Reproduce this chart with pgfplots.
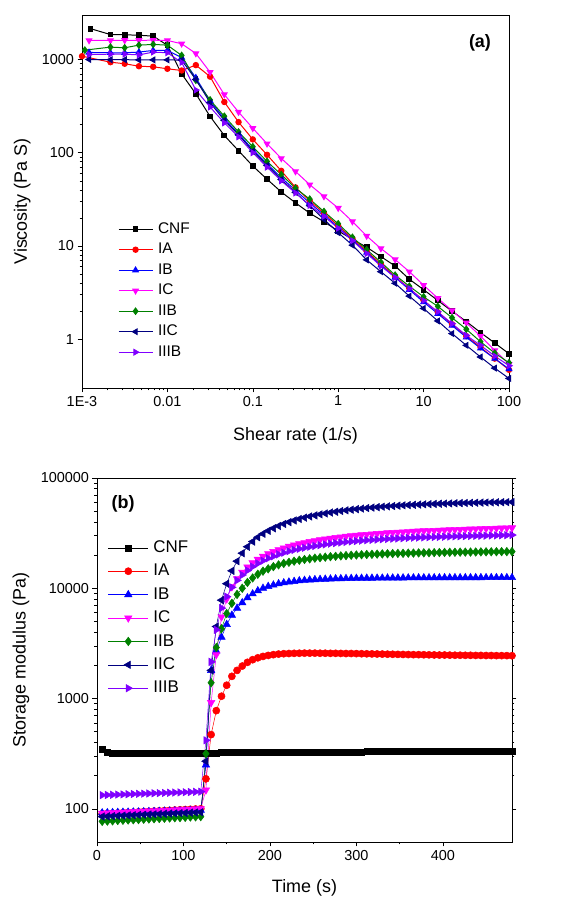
\documentclass[border=0pt]{standalone}
\usepackage{fontspec}
\setmainfont{Liberation Sans}
\usepackage{pgfplots}
\pgfplotsset{compat=1.18}
\usepackage{pgfplotstable}
\definecolor{cnavy}{RGB}{0,0,128}
\definecolor{cgreen}{RGB}{0,128,0}
\definecolor{cviolet}{RGB}{128,0,255}
\definecolor{cmag}{RGB}{255,0,255}

\pgfplotstableread{
x CNF IA IB IC IIB IIC IIIB
0.001 nan 1085 nan nan nan nan nan
0.00108 nan nan nan nan 1260 nan nan
0.00121 nan nan 1190 1600 nan 1000 1130
0.00126 2140 nan nan nan nan nan nan
0.002154 1850 935 1180 1600 1357 995 1140
0.003162 1840 900 1180 1605 1335 995 1140
0.004642 1820 847 1200 1605 1425 990 1120
0.006813 1780 835 1250 1610 1450 990 1200
0.01 1420 795 1250 1600 1425 990 1180
0.01468 700 762 1050 1475 1105 985 930
0.02154 428 870 636 1160 599 610 470
0.03162 245 655 360 731 368 345 309
0.04642 153 350 232 421 246 222 209
0.06813 105 213 160 273 167 156 148
0.1 72 139 108 183 116 104 100
0.1468 52 95 76 125 80.6 73 70
0.2154 38 64 54 87 58.3 51.5 50
0.3162 29 42.5 39.5 63 41.7 37.5 37
0.4642 22.5 30.5 29 45.5 31.8 27 27.2
0.6813 18.2 22.5 21.5 34 23.4 19.3 20.8
1 14.5 16.5 15.8 25.5 17.3 13.9 15.5
1.468 11.8 12.0 11.6 18.3 12.4 10.2 11.4
2.154 9.7 8.8 8.5 12.8 9.15 7.1 8.3
3.162 7.7 6.4 6.2 9.4 6.7 5.3 6.1
4.642 6.1 4.7 4.6 7.15 4.87 3.98 4.6
6.813 4.4 3.5 3.4 5.3 3.7 2.9 3.5
10 3.4 2.6 2.5 3.8 2.85 2.14 2.6
14.68 2.6 1.95 1.88 2.75 2.25 1.57 1.97
21.54 2.0 1.45 1.4 2.03 1.7 1.15 1.47
31.62 1.55 1.08 1.05 1.5 1.28 0.86 1.1
46.42 1.18 0.82 0.8 1.08 0.94 0.645 0.86
68.13 0.91 0.62 0.62 0.76 0.71 0.49 0.66
100 0.70 0.47 0.48 0.54 0.56 0.38 0.52
}\tabA

\pgfplotstableread{
t CNF IA IB IC IIB IIC IIIB
6 345 90 92 91 77 85 133
12 326 90.5 92.3 91.5 77.4 85.4 133.5
18 318 91 92.5 91.9 77.8 85.8 134
24 318 91.6 92.8 92.4 78.3 86.3 134.6
30 318 92.1 93.1 92.9 78.7 86.7 135.1
36 319 92.6 93.3 93.4 79.1 87.1 135.6
42 319 93.2 93.6 93.8 79.5 87.5 136.2
48 319 93.7 93.8 94.3 79.9 87.9 136.7
54 319 94.2 94.1 94.8 80.4 88.4 137.2
60 320 94.7 94.4 95.3 80.8 88.8 137.7
66 320 95.3 94.6 95.7 81.2 89.2 138.3
72 320 95.8 94.9 96.2 81.6 89.6 138.8
78 320 96.3 95.2 96.7 82.1 90.1 139.3
84 320 96.8 95.4 97.2 82.5 90.5 139.8
90 321 97.4 95.7 97.6 82.9 90.9 140.4
96 321 97.9 95.9 98.1 83.3 91.3 140.9
102 321 98.4 96.2 98.6 83.7 91.7 141.4
108 321 98.9 96.5 99.1 84.2 92.2 141.9
114 322 99.5 96.7 99.5 84.6 92.6 142.5
120 322 100 97 100 85 93 143
126 322 187 250 148 316 270 418
132 322 471 1800 918 1390 1800 2150
138 322 777 2700 2500 2900 4500 4200
144 323 1050 3600 5500 4300 7800 6600
150 323 1320 4700 8000 5900 11000 8400
156 323 1590 5700 10300 7300 14400 10200
162 323 1800 6600 12200 8800 17600 11800
168 324 1970 7400 14000 10000 20800 13200
174 324 2130 8200 15600 11300 23800 14500
180 324 2250 8900 17000 12400 26500 15700
186 324 2340 9500 18300 13400 29000 16800
192 325 2410 10000 19500 14300 31200 17800
198 325 2460 10400 20600 15000 33200 18700
204 325 2500 10700 21500 15700 35000 19500
210 325 2530 11000 22400 16300 36700 20300
216 326 2550 11200 23200 16800 38300 21000
222 326 2560 11400 24000 17200 39800 21700
228 326 2570 11550 24700 17600 41200 22300
234 326 2575 11700 25300 17950 42500 22800
240 327 2580 11800 25900 18250 43700 23300
246 327 2580 11900 26500 18500 44800 23800
252 327 2580 11980 27000 18750 45800 24200
258 327 2575 12050 27500 18950 46800 24600
264 328 2575 12100 28000 19150 47700 25000
270 328 2570 12150 28400 19350 48600 25400
276 328 2570 12200 28800 19500 49400 25700
282 328 2565 12230 29200 19650 50200 26000
288 329 2560 12260 29550 19800 50900 26300
294 329 2560 12290 29900 19920 51600 26550
300 329 2555 12310 30200 20030 52200 26800
306 329 2550 12330 30500 20130 52800 27050
312 330 2545 12350 30800 20230 53400 27250
318 330 2540 12360 31050 20320 53900 27450
324 330 2535 12370 31300 20400 54400 27650
330 330 2530 12380 31550 20480 54900 27850
336 331 2525 12390 31800 20550 55300 28000
342 331 2520 12400 32000 20620 55700 28150
348 331 2515 12410 32200 20690 56100 28300
354 331 2510 12420 32400 20750 56500 28450
360 332 2505 12430 32600 20810 56800 28600
366 332 2500 12440 32800 20860 57100 28750
372 332 2500 12440 33000 20910 57400 28850
378 332 2495 12450 33150 20960 57700 28950
384 333 2490 12450 33300 21000 57950 29050
390 333 2485 12460 33450 21050 58200 29150
396 333 2480 12460 33600 21090 58400 29250
402 333 2480 12470 33750 21130 58600 29350
408 334 2475 12470 33900 21170 58800 29450
414 334 2470 12480 34000 21200 59000 29550
420 334 2470 12480 34150 21240 59200 29650
426 334 2465 12480 34300 21270 59350 29700
432 334 2465 12490 34400 21300 59500 29800
438 335 2460 12490 34550 21330 59650 29850
444 335 2460 12490 34650 21360 59800 29950
450 335 2455 12500 34800 21390 59950 30000
456 335 2455 12500 34900 21420 60100 30100
462 335 2450 12500 35000 21440 60200 30150
468 335 2450 12500 35100 21470 60300 30250
474 335 2450 12500 35200 21490 60400 30300
480 335 2445 12500 35300 21500 60500 30400
}\tabB

\pgfplotsset{
  common/.style={
    scale only axis,
    axis line style={line width=0.8pt},
    every tick/.style={black, line width=0.6pt},
    tick align=outside,
    major tick length=4.5bp,
    minor tick length=2.5bp,
    tick label style={font=\fontsize{14.5}{14.5}\selectfont},
    label style={font=\fontsize{18}{18}\selectfont},
    /pgf/number format/assume math mode=true,
    legend cell align=left,
  },
}

\begin{document}
\begin{tikzpicture}
\path[use as bounding box] (0,0) rectangle (562bp,898bp);

% ---------- panel (a) ----------
\begin{axis}[common,
  at={(82bp,510bp)}, anchor=south west,
  width=427bp, height=373bp,
  xmode=log, ymode=log,
  xmin=0.001, xmax=100, ymin=0.3, ymax=3000,
  xtick={0.001,0.01,0.1,1,10,100},
  xticklabels={1E-3,0.01,0.1,1,10,100},
  ytick={1,10,100,1000},
  yticklabels={1,10,100,1000},
  xtick pos=left, ytick pos=left,
  xlabel={Shear rate (1/s)},
  ylabel={Viscosity (Pa S)},
  xlabel style={at={(axis description cs:0.5,-0.129)}, anchor=center},
  ylabel style={at={(axis description cs:-0.14,0.5)}, anchor=center},
  legend style={draw=none, fill=none, inner sep=0pt,
    at={(0.084,0.445)}, anchor=north west,
    font=\fontsize{15.5}{15.5}\selectfont,
    nodes={inner sep=0pt, text height=11bp, text depth=3bp},
    row sep=6.5bp,
    /tikz/column 1/.style={column sep=5bp}},
  legend image code/.code={\draw[mark repeat=2,mark phase=2,#1] plot coordinates {(0cm,0cm) (0.6cm,0cm) (1.2cm,0cm)};},
]
\addplot[black, line width=1pt, mark=square*, mark size=2.4pt] table[x=x,y=CNF] {\tabA};
\addlegendentry{CNF}
\addplot[red, line width=1pt, mark=*, mark size=2.7pt] table[x=x,y=IA] {\tabA};
\addlegendentry{IA}
\addplot[blue, line width=1pt, mark=triangle*, mark size=3.2pt] table[x=x,y=IB] {\tabA};
\addlegendentry{IB}
\addplot[cmag, line width=1pt, mark=triangle*, mark size=3.2pt, mark options={rotate=180}] table[x=x,y=IC] {\tabA};
\addlegendentry{IC}
\addplot[cgreen, line width=1pt, mark=diamond*, mark size=3.2pt] table[x=x,y=IIB] {\tabA};
\addlegendentry{IIB}
\addplot[cnavy, line width=1pt, mark=triangle*, mark size=3.2pt, mark options={rotate=90}] table[x=x,y=IIC] {\tabA};
\addlegendentry{IIC}
\addplot[cviolet, line width=1pt, mark=triangle*, mark size=3.2pt, mark options={rotate=-90}] table[x=x,y=IIIB] {\tabA};
\addlegendentry{IIIB}
\node[font=\bfseries\fontsize{18}{18}\selectfont] at (rel axis cs:0.932,0.925) {(a)};
\end{axis}

% ---------- panel (b) ----------
\begin{axis}[common,
  at={(97bp,56bp)}, anchor=south west,
  width=415bp, height=364bp,
  ymode=log,
  xmin=0, xmax=480, ymin=50, ymax=100000,
  xtick={0,100,200,300,400},
  minor x tick num=1,
  ytick={100,1000,10000,100000},
  yticklabels={100,1000,10000,100000},
  xtick pos=left, ytick pos=both,
  xlabel={Time (s)},
  ylabel={Storage modulus (Pa)},
  xlabel style={at={(axis description cs:0.5,-0.126)}, anchor=center},
  ylabel style={at={(axis description cs:-0.183,0.5)}, anchor=center},
  legend style={draw=none, fill=none, inner sep=0pt,
    at={(0.0265,0.83)}, anchor=north west,
    font=\fontsize{17}{17}\selectfont,
    nodes={inner sep=0pt, text height=12.5bp, text depth=3bp},
    row sep=7.9bp,
    /tikz/column 1/.style={column sep=5bp}},
  legend image code/.code={\draw[mark repeat=2,mark phase=2,#1] plot coordinates {(0cm,0cm) (0.7cm,0cm) (1.4cm,0cm)};},
]
\addplot[black, line width=0.5pt, mark=square*, mark size=3pt] table[x=t,y=CNF] {\tabB};
\addlegendentry{CNF}
\addplot[red, line width=0.5pt, mark=*, mark size=3.6pt] table[x=t,y=IA] {\tabB};
\addlegendentry{IA}
\addplot[blue, line width=0.5pt, mark=triangle*, mark size=4.3pt] table[x=t,y=IB] {\tabB};
\addlegendentry{IB}
\addplot[cmag, line width=0.5pt, mark=triangle*, mark size=4.3pt, mark options={rotate=180}] table[x=t,y=IC] {\tabB};
\addlegendentry{IC}
\addplot[cgreen, line width=0.5pt, mark=diamond*, mark size=4.3pt] table[x=t,y=IIB] {\tabB};
\addlegendentry{IIB}
\addplot[cnavy, line width=0.5pt, mark=triangle*, mark size=4.3pt, mark options={rotate=90}] table[x=t,y=IIC] {\tabB};
\addlegendentry{IIC}
\addplot[cviolet, line width=0.5pt, mark=triangle*, mark size=4.3pt, mark options={rotate=-90}] table[x=t,y=IIIB] {\tabB};
\addlegendentry{IIIB}
\node[font=\bfseries\fontsize{18}{18}\selectfont] at (rel axis cs:0.063,0.929) {(b)};
\end{axis}
\end{tikzpicture}
\end{document}
